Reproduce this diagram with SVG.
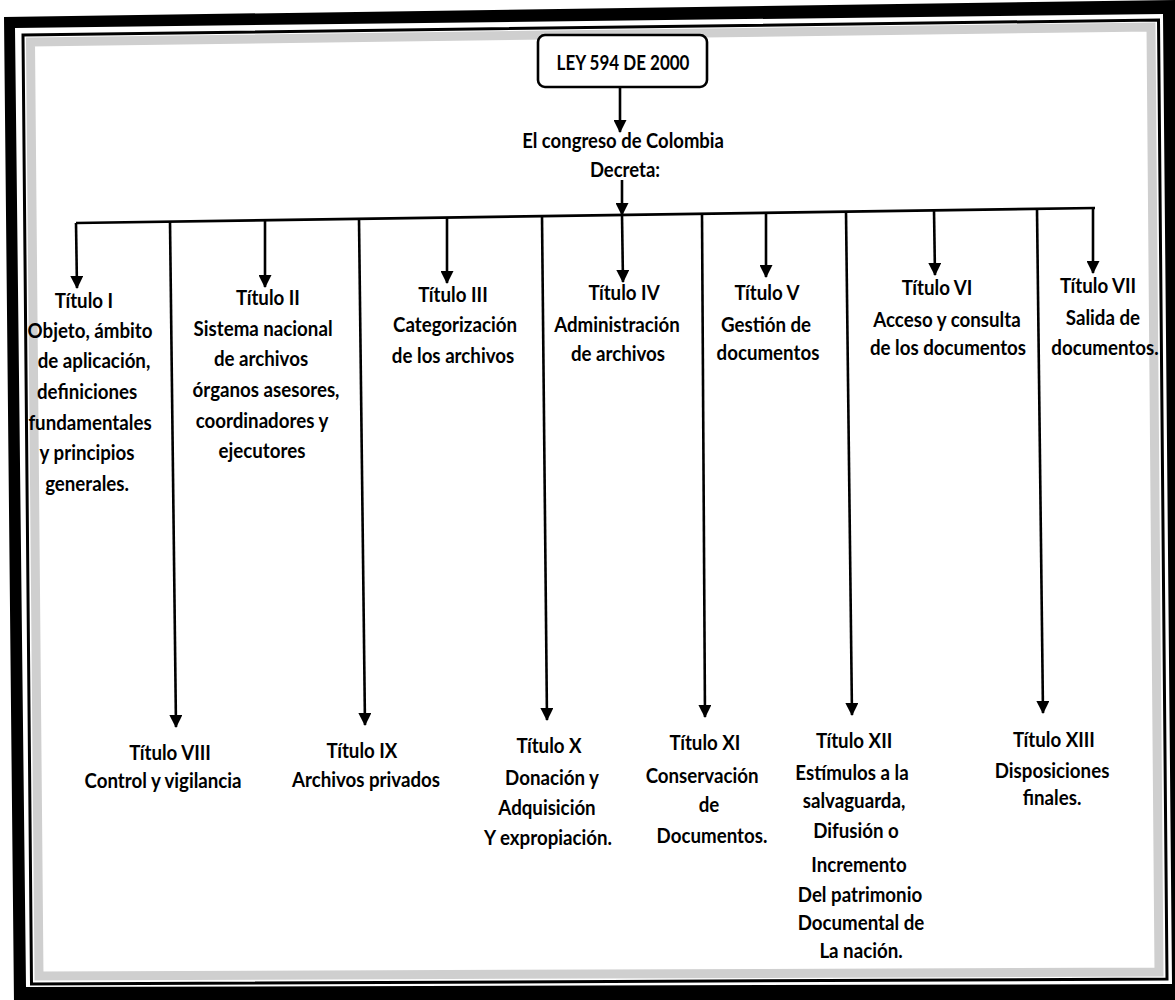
<svg xmlns="http://www.w3.org/2000/svg" width="1175" height="1000" viewBox="0 0 1175 1000">
<style>
.t{font-family:Lato,"Liberation Sans",sans-serif;font-size:21.5px;font-weight:bold;text-anchor:middle;fill:#000}
.c{stroke:#000;stroke-width:2.6;fill:none}
.a{stroke:#000;stroke-width:2.6;fill:none;marker-end:url(#ah)}
</style>
<defs>
<marker id="ah" markerUnits="userSpaceOnUse" markerWidth="13" markerHeight="13" viewBox="0 0 13 13" refX="12" refY="6.5" orient="auto">
<path d="M0,0 L13,6.5 L0,13 Z" fill="#000"/>
</marker>
</defs>
<rect width="1175" height="1000" fill="#fff"/>
<g id="frame">
<path d="M4,17 L1180,0 L1180,1003 L14,1003 Z M15,28 L26,987 L1172,984 L1163,14 Z" fill="#000" fill-rule="evenodd"/>
<polygon points="23,35 1158.5,20 1167,979 31.5,984" fill="none" stroke="#000" stroke-width="3"/>
<polygon points="30.5,42 1151,27 1159,972 39,976" fill="none" stroke="#cfcfcf" stroke-width="9"/>
</g>
<g id="ley">
<rect x="538" y="35" width="169" height="52" rx="7" fill="#fff" stroke="#000" stroke-width="2.6"/>
<g transform="translate(623 0) scale(0.79 1)"><text class="t" x="0" y="70">LEY 594 DE 2000</text></g>
</g>
<g id="congreso" transform="translate(624 0) scale(0.86 1)">
<text class="t"><tspan x="-1.1" y="148">El congreso de Colombia</tspan><tspan x="1.1" y="177">Decreta:</tspan></text>
</g>
<g id="connectors">
<line class="a" x1="620" y1="87" x2="620" y2="132"/>
<line class="a" x1="622" y1="180" x2="622" y2="215"/>
<line class="c" x1="76" y1="223" x2="1095" y2="208"/>
<line class="a" x1="76" y1="223" x2="77" y2="288"/>
<line class="a" x1="265" y1="220.2" x2="265" y2="287"/>
<line class="a" x1="447" y1="217.5" x2="447" y2="283"/>
<line class="a" x1="622" y1="215" x2="623" y2="282"/>
<line class="a" x1="766" y1="212.9" x2="766" y2="277"/>
<line class="a" x1="934" y1="210.4" x2="935" y2="275"/>
<line class="a" x1="1093" y1="208" x2="1093" y2="273"/>
<line class="a" x1="170" y1="221.6" x2="176" y2="727"/>
<line class="a" x1="359" y1="218.8" x2="365" y2="725"/>
<line class="a" x1="542" y1="216.1" x2="547" y2="720"/>
<line class="a" x1="702" y1="213.8" x2="705" y2="717"/>
<line class="a" x1="846" y1="211.7" x2="852" y2="715"/>
<line class="a" x1="1037" y1="208.9" x2="1043" y2="713"/>
</g>
<g id="titulo-1" transform="translate(88 0) scale(0.87 1)">
<text class="t"><tspan x="-4.6" y="308">Título I</tspan><tspan x="2.3" y="338">Objeto, ámbito</tspan><tspan x="6.9" y="368">de aplicación,</tspan><tspan x="-1.1" y="399">definiciones</tspan><tspan x="2.3" y="430">fundamentales</tspan><tspan x="-1.1" y="460">y principios</tspan><tspan x="-1.1" y="491">generales.</tspan></text>
</g>
<g id="titulo-2" transform="translate(264 0) scale(0.87 1)">
<text class="t"><tspan x="4.6" y="305">Título II</tspan><tspan x="-1.1" y="336">Sistema nacional</tspan><tspan x="-3.4" y="366">de archivos</tspan><tspan x="2.3" y="397">órganos asesores,</tspan><tspan x="-2.3" y="428">coordinadores y</tspan><tspan x="-2.3" y="458">ejecutores</tspan></text>
</g>
<g id="titulo-3" transform="translate(455 0) scale(0.87 1)">
<text class="t"><tspan x="-2.3" y="302">Título III</tspan><tspan x="0" y="332">Categorización</tspan><tspan x="-2.3" y="363">de los archivos</tspan></text>
</g>
<g id="titulo-4" transform="translate(620 0) scale(0.87 1)">
<text class="t"><tspan x="4.6" y="300">Título IV</tspan><tspan x="-3.4" y="332">Administración</tspan><tspan x="-2.3" y="361">de archivos</tspan></text>
</g>
<g id="titulo-5" transform="translate(767 0) scale(0.87 1)">
<text class="t"><tspan x="0" y="300">Título V</tspan><tspan x="-1.1" y="332">Gestión de</tspan><tspan x="1.1" y="360">documentos</tspan></text>
</g>
<g id="titulo-6" transform="translate(944 0) scale(0.87 1)">
<text class="t"><tspan x="-8" y="295">Título VI</tspan><tspan x="3.4" y="327">Acceso y consulta</tspan><tspan x="4.6" y="355">de los documentos</tspan></text>
</g>
<g id="titulo-7" transform="translate(1102 0) scale(0.87 1)">
<text class="t"><tspan x="-4.6" y="293">Título VII</tspan><tspan x="1.1" y="325">Salida de</tspan><tspan x="3.4" y="355">documentos.</tspan></text>
</g>
<g id="titulo-8" transform="translate(166 0) scale(0.87 1)">
<text class="t"><tspan x="4.6" y="760">Título VIII</tspan><tspan x="-3.4" y="788">Control y vigilancia</tspan></text>
</g>
<g id="titulo-9" transform="translate(364 0) scale(0.87 1)">
<text class="t"><tspan x="-2.3" y="758">Título IX</tspan><tspan x="2.3" y="787">Archivos privados</tspan></text>
</g>
<g id="titulo-10" transform="translate(549 0) scale(0.87 1)">
<text class="t"><tspan x="0" y="753">Título X</tspan><tspan x="3.4" y="785">Donación y</tspan><tspan x="-2.3" y="815">Adquisición</tspan><tspan x="-1.1" y="845">Y expropiación.</tspan></text>
</g>
<g id="titulo-11" transform="translate(707 0) scale(0.87 1)">
<text class="t"><tspan x="-2.3" y="750">Título XI</tspan><tspan x="-5.7" y="783">Conservación</tspan><tspan x="2.3" y="812">de</tspan><tspan x="5.7" y="843">Documentos.</tspan></text>
</g>
<g id="titulo-12" transform="translate(857 0) scale(0.87 1)">
<text class="t"><tspan x="-3.4" y="748">Título XII</tspan><tspan x="-5.7" y="780">Estímulos a la</tspan><tspan x="-3.4" y="808">salvaguarda,</tspan><tspan x="-1.1" y="838">Difusión o</tspan><tspan x="2.3" y="872">Incremento</tspan><tspan x="3.4" y="902">Del patrimonio</tspan><tspan x="4.6" y="930">Documental de</tspan><tspan x="4.6" y="958">La nación.</tspan></text>
</g>
<g id="titulo-13" transform="translate(1053 0) scale(0.87 1)">
<text class="t"><tspan x="1.1" y="747">Título XIII</tspan><tspan x="-1.1" y="778">Disposiciones</tspan><tspan x="-1.1" y="805">finales.</tspan></text>
</g>
</svg>
